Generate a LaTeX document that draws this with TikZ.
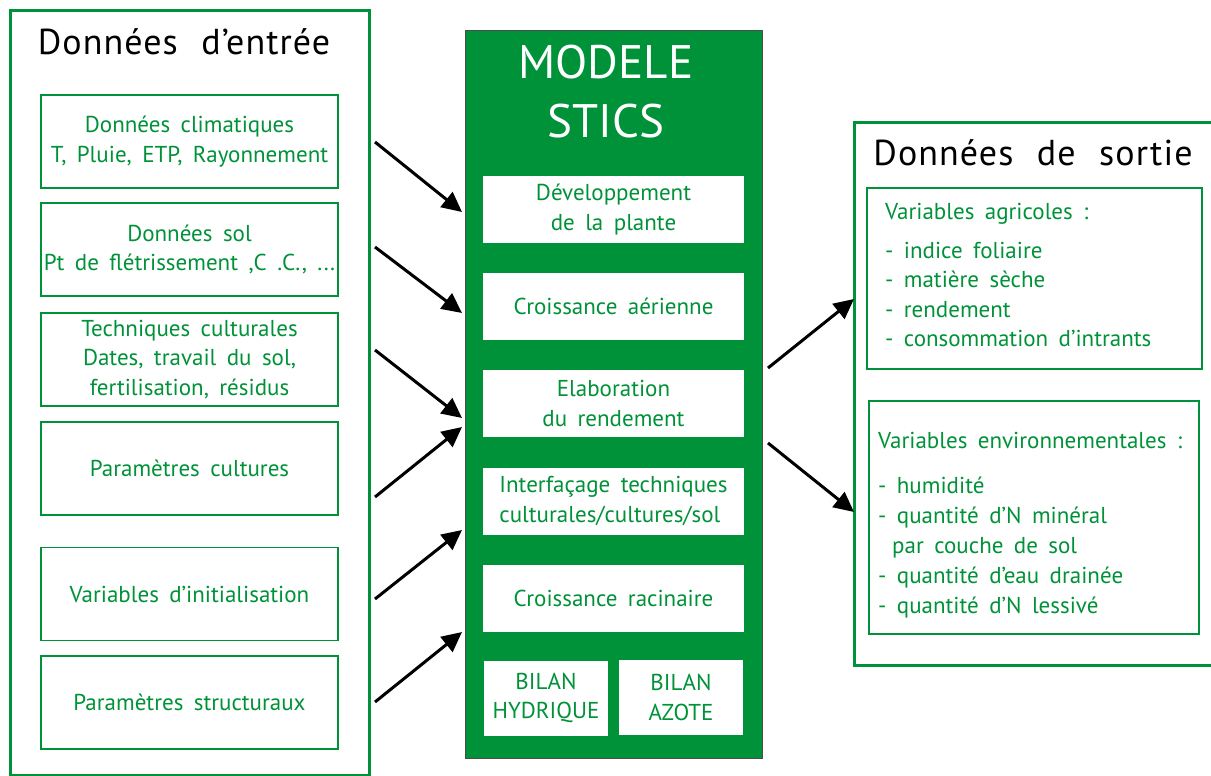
\documentclass[tikz,border=0pt]{standalone}
\usepackage{fontspec}
\setmainfont{PT Sans}[WordSpace=1.7]
\newfontfamily\titlefont{PT Sans}[LetterSpace=3,WordSpace=2.2]
\newfontfamily\modfont{PT Sans}
\usetikzlibrary{arrows.meta}
\definecolor{stgreen}{RGB}{0,146,56}
\tikzset{
  frame/.style={draw=stgreen,line width=3pt,inner sep=0pt},
  inbox/.style={draw=stgreen,line width=1.5pt,minimum width=297pt,minimum height=93pt,
    inner sep=0pt,text=stgreen,align=center,font=\fontsize{23}{29.5}\selectfont},
  modbox/.style={fill=white,minimum width=261pt,minimum height=67pt,inner sep=0pt,
    text=stgreen,align=center,font=\fontsize{23}{29.5}\selectfont},
  bilan/.style={fill=white,minimum width=124pt,minimum height=75pt,inner sep=0pt,
    text=stgreen,align=center,font=\fontsize{23}{29.5}\selectfont},
  outbox/.style={draw=stgreen,line width=1.5pt,inner sep=0pt},
  outtext/.style={inner sep=0pt,text=stgreen,align=left,anchor=north west},
  title/.style={font=\titlefont\fontsize{36}{40}\selectfont},
  flow/.style={-{Triangle[length=20pt,width=19pt]},line width=3pt}
}
\begin{document}
\begin{tikzpicture}[x=1pt,y=-1pt]
  \useasboundingbox (0,0) rectangle (1211,776);
  \clip (0,0) rectangle (1211,776);

  % donnees d'entree
  \node[frame,minimum width=359pt,minimum height=764pt] (entree) at (189.5,393) {};
  \node[title] (tentree) at (184,42) {Données d’entrée};
  \node[inbox] (clim) at (189.5,141.5) {Données climatiques\\T, Pluie, ETP, Rayonnement};
  \node[inbox] (sol) at (189.5,249.5) {Données sol\\Pt de flétrissement ,C .C., ...};
  \node[inbox] (tech) at (189.5,359.5) {Techniques culturales\\Dates, travail du sol,\\fertilisation, résidus};
  \node[inbox] (pcult) at (189.5,468.5) {Paramètres cultures};
  \node[inbox] (init) at (189.5,594) {Variables d’initialisation};
  \node[inbox] (pstruct) at (189.5,702.5) {Paramètres structuraux};

  % modele
  \node[fill=stgreen,draw=black!70,line width=0.8pt,minimum width=297pt,minimum height=728pt] (modele) at (613.5,394) {};
  \node[text=white,align=center,font=\modfont\fontsize{47}{59}\selectfont] (tmodele) at (606,92) {MODELE\\STICS};
  \node[modbox] (dev) at (613.5,209.5) {Développement\\de la plante};
  \node[modbox] (aer) at (613.5,306.5) {Croissance aérienne};
  \node[modbox] (elab) at (613.5,403.5) {Elaboration\\du rendement};
  \node[modbox] (interf) at (613.5,501.5) {\begin{tabular}{@{}l@{}}Interfaçage techniques\\culturales/cultures/sol\end{tabular}};
  \node[modbox] (rac) at (613.5,598.5) {Croissance racinaire};
  \node[bilan] (hyd) at (546,698) {BILAN\\HYDRIQUE};
  \node[bilan] (azo) at (681,697.5) {BILAN\\AZOTE};

  % donnees de sortie
  \node[frame,minimum width=376pt,minimum height=543pt] (sortie) at (1042,393.5) {};
  \node[title] (tsortie) at (1033,153) {Données de sortie};
  \node[outbox,minimum width=335pt,minimum height=181pt] (agri) at (1034.5,278.5) {};
  \node[outtext,font=\fontsize{23}{29.5}\selectfont] (tagri) at (885,203)
    {Variables agricoles :\\[9.5pt]- indice foliaire\\- matière sèche\\- rendement\\- consommation d’intrants};
  \node[outbox,minimum width=330pt,minimum height=233pt] (envi) at (1034,517.5) {};
  \node[outtext,font=\fontsize{23}{30}\selectfont] (tenvi) at (878,432)
    {Variables environnementales :\\[15pt]- humidité\\- quantité d’N minéral\\\hspace*{14pt}par couche de sol\\- quantité d’eau drainée\\- quantité d’N lessivé};

  % fleches
  \coordinate (a1) at (375,142);
  \coordinate (a2) at (375,247);
  \coordinate (a3) at (375,350);
  \coordinate (a4) at (375,497);
  \coordinate (a5) at (375,599);
  \coordinate (a6) at (375,702);
  \coordinate (b1) at (462,212);
  \coordinate (b2) at (462,313);
  \coordinate (b3) at (462,418);
  \coordinate (b4) at (462,427);
  \coordinate (b5) at (462,530);
  \coordinate (b6) at (462,632);
  \coordinate (c1) at (768,368);
  \coordinate (c2) at (768,443);
  \coordinate (d1) at (854,299);
  \coordinate (d2) at (854,512);
  \draw[flow] (a1) -- (b1);
  \draw[flow] (a2) -- (b2);
  \draw[flow] (a3) -- (b3);
  \draw[flow] (a4) -- (b4);
  \draw[flow] (a5) -- (b5);
  \draw[flow] (a6) -- (b6);
  \draw[flow] (c1) -- (d1);
  \draw[flow] (c2) -- (d2);
\end{tikzpicture}
\end{document}
